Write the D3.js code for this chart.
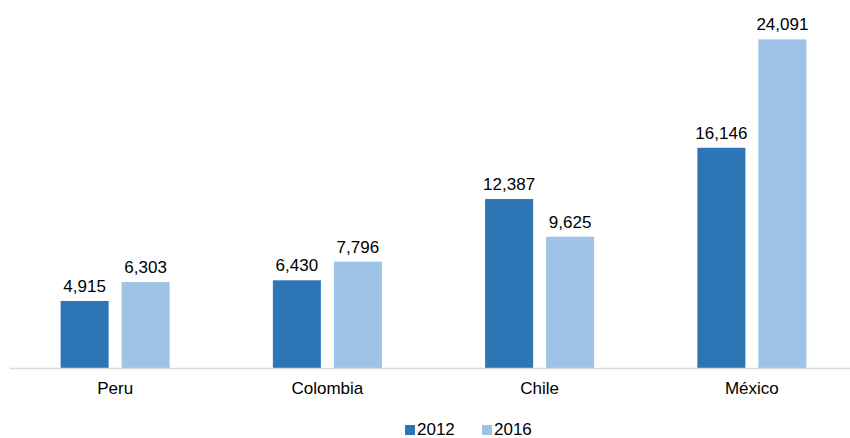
<!DOCTYPE html>
<html>
<head>
<meta charset="utf-8">
<script src="https://cdn.jsdelivr.net/npm/d3@7"></script>
<style>
  body { margin: 0; background: #fff; }
  text { font-family: "Liberation Sans", Arial, sans-serif; fill: #000; }
</style>
</head>
<body>
<div id="chart"></div>
<script>
// data
var countries = ["Peru", "Colombia", "Chile", "México"];
var years = ["2012", "2016"];
var values2012 = [4915, 6430, 12387, 16146];
var values2016 = [6303, 7796, 9625, 24091];

var colors = ["#2E75B6", "#9DC3E6"];

var W = 850, H = 438;
var baseY = 368;

var data = countries.map(function(c, i) {
  return { country: c, vals: [values2012[i], values2016[i]] };
});

var svg = d3.select("#chart").append("svg")
  .attr("width", W).attr("height", H);

var x0 = d3.scaleBand().domain(countries).range([9, 858]).paddingInner(0).paddingOuter(0);
var x1 = d3.scaleBand().domain(years).range([0, x0.bandwidth()])
  .paddingInner(0.213).paddingOuter(0.846);
var y = d3.scaleLinear().domain([0, 25000]).range([baseY, 27]);

var fmt = d3.format(",");

var groups = svg.selectAll("g.grp")
  .data(data).enter().append("g")
  .attr("class", "grp")
  .attr("transform", function(d) { return "translate(" + x0(d.country) + ",0)"; });

groups.selectAll("rect")
  .data(function(d) { return d.vals.map(function(v, i) { return { year: years[i], v: v, i: i }; }); })
  .enter().append("rect")
  .attr("x", function(d) { return x1(d.year); })
  .attr("y", function(d) { return y(d.v); })
  .attr("width", x1.bandwidth())
  .attr("height", function(d) { return baseY - y(d.v); })
  .attr("fill", function(d) { return colors[d.i]; });

groups.selectAll("text.val")
  .data(function(d) { return d.vals.map(function(v, i) { return { year: years[i], v: v }; }); })
  .enter().append("text")
  .attr("class", "val")
  .attr("x", function(d) { return x1(d.year) + x1.bandwidth() / 2; })
  .attr("y", function(d) { return y(d.v) - 9; })
  .attr("text-anchor", "middle")
  .style("font-size", "17px")
  .text(function(d) { return fmt(d.v); });

// x axis
var xAxis = d3.axisBottom(x0).tickSize(0).tickPadding(14);
var ax = svg.append("g").attr("transform", "translate(0," + baseY + ")").call(xAxis);
ax.select(".domain").attr("stroke", "#d9d9d9").attr("stroke-width", 1.5);
ax.selectAll("text").style("font-size", "17px").attr("fill", "#000")
  .style("font-family", "'Liberation Sans', Arial, sans-serif");

// legend
var legend = svg.append("g").attr("transform", "translate(405,0)");
var li = legend.selectAll("g").data(years).enter().append("g")
  .attr("transform", function(d, i) { return "translate(" + (i * 77) + ",0)"; });
li.append("rect").attr("x", 0).attr("y", 425).attr("width", 10).attr("height", 10)
  .attr("fill", function(d, i) { return colors[i]; });
li.append("text").attr("x", 12).attr("y", 435).style("font-size", "17px").text(function(d) { return d; });
</script>
</body>
</html>
